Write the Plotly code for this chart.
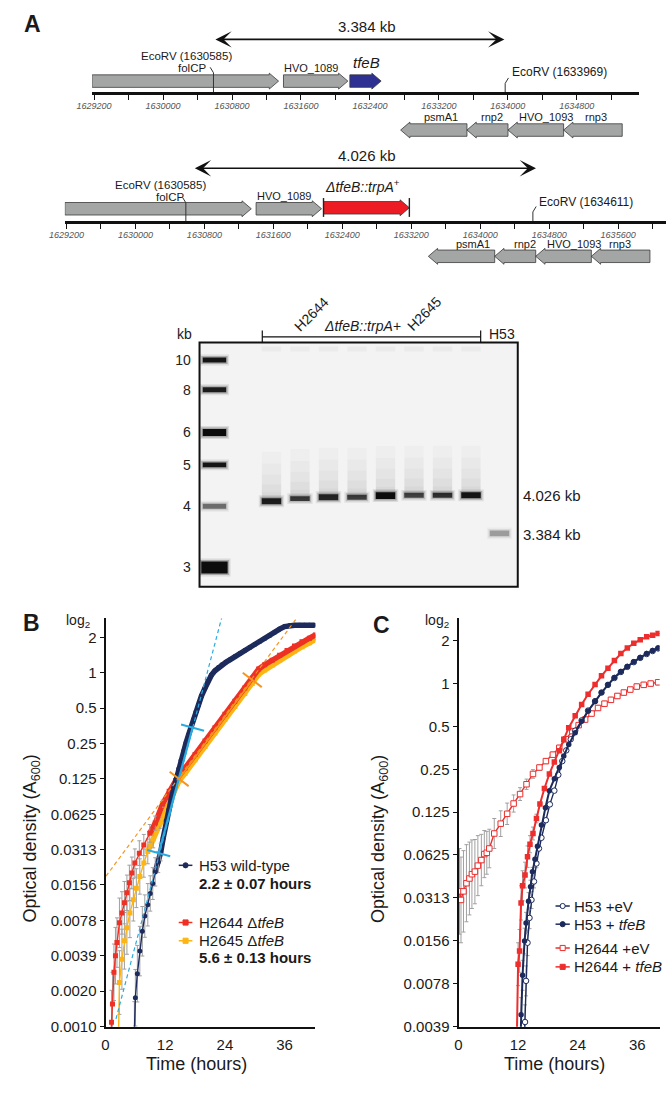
import math
import plotly.graph_objects as go

W, H = 672, 1093
FONT = "Liberation Sans, Arial, Helvetica, sans-serif"
INK = "#1a1a1a"


def px(x):
    return x / W


def py(y):
    return 1 - y / H


# ------------------------------------------------------------------ DATA
# Panel A : genome maps (bp coordinates)
map1_fwd_names = ["folCP", "HVO_1089", "tfeB"]
map1_fwd_start = [1629177, 1631397, 1632167]
map1_fwd_end = [1631340, 1632144, 1632530]
map1_rev_names = ["psmA1", "rnp2", "HVO_1093", "rnp3"]
map1_rev_start = [1632756, 1633526, 1634002, 1634647]
map1_rev_end = [1633526, 1634002, 1634647, 1635327]
map1_ecorv = [1630585, 1633969]
map1_fragment = [1630590, 1633960]
map1_ticks = list(range(1629200, 1635201, 400))

map2_fwd_names = ["folCP", "HVO_1089", "ΔtfeB::trpA+"]
map2_fwd_start = [1629181, 1631400, 1632182]
map2_fwd_end = [1631344, 1632159, 1633178]
map2_rev_names = ["psmA1", "rnp2", "HVO_1093", "rnp3"]
map2_rev_start = [1633398, 1634168, 1634644, 1635289]
map2_rev_end = [1634168, 1634644, 1635289, 1635969]
map2_ecorv = [1630585, 1634611]
map2_fragment = [1630672, 1634647]
map2_ticks = list(range(1629200, 1636001, 400))

# Panel A : Southern blot (lane number, migration in gel pixels from wells)
ladder_kb = [10, 8, 6, 5, 4, 3]
ladder_mig = [17.7, 47.7, 90.7, 123.3, 165.0, 226.7]
ladder_int = [0.95, 0.9, 1.0, 0.95, 0.5, 1.0]
ladder_thick = [5, 5, 7, 5, 5, 12]
sample_lanes = [3, 4, 5, 6, 7, 8, 9, 10]
sample_mig = [160.0, 157.3, 156.0, 156.0, 154.3, 154.0, 154.0, 154.0]
sample_int = [0.9, 0.75, 0.85, 0.72, 1.0, 0.7, 0.8, 0.95]
sample_thick = [6, 5, 6, 5, 7, 5, 5, 6]
wt_lane = [11]
wt_mig = [192.3]
wt_int = [0.3]

# Panel B : growth curves (time h, log2 A600, error in log2 units)
b_h53_t = [5.8, 6.0, 6.4, 6.9, 7.4, 7.9, 8.5, 9.0, 9.5, 10.0, 10.6, 11.1, 11.6, 12.2, 12.7, 13.2, 13.7,
           14.2, 14.7, 15.2, 15.7, 16.2, 16.7, 17.2, 17.7, 18.2, 18.7, 19.3, 20.0, 20.6, 21.3, 22.0,
           22.7, 23.4, 24.2, 25.0, 26.0, 27.0, 28.0, 29.0, 30.0, 31.0, 32.0, 33.0, 34.0, 35.0, 36.0,
           37.0, 38.0, 39.0, 40.0, 41.0, 42.0]
b_h53_log2 = [-10.2, -9.19, -8.51, -7.87, -7.31, -6.88, -6.56, -6.24, -5.96, -5.63, -5.35, -5.07, -4.67,
              -4.18, -3.88, -3.58, -3.29, -3.0, -2.72, -2.47, -2.22, -1.98, -1.75, -1.53, -1.32, -1.1,
              -0.9, -0.65, -0.43, -0.24, -0.06, 0.06, 0.15, 0.23, 0.3, 0.37, 0.46, 0.55, 0.63, 0.72,
              0.8, 0.89, 0.97, 1.06, 1.15, 1.24, 1.31, 1.34, 1.35, 1.35, 1.35, 1.35, 1.35]
b_h53_err = [0.9, 0.8, 0.8, 0.7, 0.7, 0.6, 0.6, 0.5, 0.45, 0.4, 0.3, 0.25] + [0.0] * 41

b_h2644_t = [1.0, 1.2, 1.4, 1.7, 2.0, 2.3, 2.8, 3.3, 3.8, 4.3, 4.8, 5.3, 5.9, 6.8, 7.7, 8.9, 10.0, 11.5,
             12.8, 14.1, 16.0, 18.0, 20.0, 22.0, 24.0, 26.0, 28.0, 29.5, 30.8, 32.0, 33.5, 35.0, 36.5,
             38.0, 39.5, 41.0, 42.2]
b_h2644_log2 = [-10.5, -9.88, -9.37, -8.47, -8.0, -7.63, -7.07, -6.79, -6.5, -6.22, -5.94, -5.66, -5.38,
                -5.10, -4.87, -4.54, -4.25, -3.70, -3.35, -3.05, -2.69, -2.31, -1.93, -1.55, -1.17, -0.80,
                -0.43, -0.15, 0.11, 0.23, 0.36, 0.50, 0.63, 0.76, 0.88, 0.98, 1.07]
b_h2644_err = [0.0, 0.9, 0.9, 0.8, 0.8, 0.7, 0.7, 0.6, 0.6, 0.5, 0.5, 0.45, 0.4, 0.35, 0.3, 0.25, 0.2,
               0.1] + [0.0] * 19

b_h2645_t = [2.6, 2.8, 3.3, 3.8, 4.3, 4.9, 5.6, 6.2, 6.9, 7.7, 8.5, 9.6, 10.9, 12.2, 13.5, 14.8, 16.0,
             18.0, 20.0, 22.0, 24.0, 26.0, 28.0, 29.5, 30.8, 32.0, 33.5, 35.0, 36.5, 38.0, 39.5, 41.0, 42.2]
b_h2645_log2 = [-10.3, -8.76, -8.1, -7.58, -7.21, -6.79, -6.42, -6.09, -5.76, -5.38, -5.05, -4.70, -4.25,
                -3.80, -3.40, -3.05, -2.84, -2.46, -2.08, -1.70, -1.32, -0.95, -0.58, -0.30, -0.04, 0.08,
                0.22, 0.36, 0.49, 0.62, 0.74, 0.85, 0.95]
b_h2645_err = [0.0, 0.9, 0.85, 0.8, 0.75, 0.7, 0.6, 0.55, 0.5, 0.4, 0.35, 0.25, 0.15] + [0.0] * 20

# doubling-time fits (end points, log2 units)
b_fit_wt_t = [2.1, 23.4]
b_fit_wt_log2 = [-9.79, 1.58]
b_win_wt_t = [10.7, 17.5]
b_win_wt_log2 = [-5.1, -1.55]
b_fit_mut_t = [0.1, 39.5]
b_fit_mut_log2 = [-5.75, 1.75]
b_win_mut_t = [14.8, 29.5]
b_win_mut_log2 = [-3.0, -0.2]

# Panel C
c_h53ev_t = [13.2, 13.4, 13.6, 13.9, 14.3, 14.7, 15.2, 15.7, 16.2, 16.7, 17.6, 18.4, 19.3, 20.1, 20.9,
             21.7, 22.6, 23.5, 24.8, 26.1, 27.5, 28.8, 30.1, 31.4, 32.7, 34.0, 35.3, 36.6, 37.9, 39.1, 40.2]
c_h53ev_log2 = [-8.5, -7.9, -6.94, -6.05, -5.47, -5.05, -4.62, -4.2, -3.85, -3.6, -3.19, -2.82, -2.5,
                -2.13, -1.81, -1.56, -1.3, -1.1, -0.86, -0.63, -0.41, -0.21, -0.03, 0.13, 0.27, 0.39,
                0.50, 0.60, 0.69, 0.76, 0.82]
c_h53ev_err = [0.0, 0.4, 0.35, 0.3, 0.25, 0.2, 0.15, 0.1] + [0.0] * 23

c_h53tfeb_t = [12.4, 12.6, 12.9, 13.3, 13.6, 14.1, 14.5, 14.9, 15.4, 15.9, 16.7, 17.5, 18.3, 19.3, 20.3,
               21.2, 22.2, 23.5, 24.8, 26.1, 27.5, 28.8, 30.1, 31.4, 32.7, 34.0, 35.3, 36.6, 37.9, 39.1, 40.2]
c_h53tfeb_log2 = [-8.6, -7.73, -6.81, -6.01, -5.59, -5.08, -4.74, -4.39, -4.10, -3.80, -3.30, -2.90, -2.50,
                  -2.22, -1.96, -1.69, -1.42, -1.15, -0.88, -0.64, -0.42, -0.21, -0.03, 0.14, 0.28, 0.40,
                  0.51, 0.61, 0.70, 0.77, 0.83]
c_h53tfeb_err = [0.0, 0.4, 0.35, 0.3, 0.25, 0.2, 0.15, 0.1] + [0.0] * 23

c_h2644ev_t = [0.2, 0.5, 1.0, 1.6, 2.2, 2.7, 3.3, 3.9, 4.6, 5.2, 5.7, 6.2, 7.2, 8.5, 9.8, 11.1, 12.4, 13.7,
               15.0, 16.3, 17.6, 19.0, 20.3, 21.6, 22.9, 24.2, 25.5, 26.8, 28.1, 29.4, 30.7, 32.0, 33.3,
               34.6, 35.9, 37.3, 38.7, 40.2]
c_h2644ev_log2 = [-4.85, -5.05, -4.85, -4.66, -4.55, -4.45, -4.39, -4.25, -4.12, -3.98, -3.95, -3.85, -3.5,
                  -3.27, -3.04, -2.8, -2.58, -2.35, -2.11, -1.96, -1.81, -1.66, -1.5, -1.3, -1.11, -0.97,
                  -0.84, -0.7, -0.57, -0.47, -0.38, -0.29, -0.21, -0.14, -0.07, -0.03, 0.0, 0.03]
c_h2644ev_err = [1.0, 1.0, 0.95, 0.9, 0.85, 0.8, 0.75, 0.7, 0.6, 0.55, 0.5, 0.45, 0.35, 0.3, 0.25, 0.2,
                 0.15, 0.12, 0.1] + [0.06] * 19

c_h2644tfeb_t = [11.7, 12.0, 12.3, 12.6, 12.9, 13.4, 13.9, 14.4, 15.0, 15.7, 16.4, 17.3, 18.3, 19.3, 20.3,
                 21.2, 22.2, 23.5, 24.8, 26.1, 27.5, 28.8, 30.1, 31.4, 32.7, 34.0, 35.3, 36.6, 37.9, 39.1, 40.2]
c_h2644tfeb_log2 = [-8.6, -6.55, -6.24, -5.12, -4.72, -4.47, -4.04, -3.75, -3.5, -3.15, -2.81, -2.45, -2.11,
                    -1.83, -1.57, -1.30, -1.03, -0.75, -0.49, -0.25, -0.02, 0.18, 0.36, 0.54, 0.70, 0.83,
                    0.94, 1.02, 1.09, 1.13, 1.17]
c_h2644tfeb_err = [0.0, 0.5, 0.5, 0.4, 0.35, 0.3, 0.25, 0.2, 0.15, 0.1] + [0.0] * 21

b_ytick_text = ["2", "1", "0.5", "0.25", "0.125", "0.0625", "0.0313", "0.0156", "0.0078", "0.0039",
                "0.0020", "0.0010"]
b_ytick_log2 = [1, 0, -1, -2, -3, -4, -5, -6, -7, -8, -9, -10]
c_ytick_text = ["2", "1", "0.5", "0.25", "0.125", "0.0625", "0.0313", "0.0156", "0.0078", "0.0039"]
c_ytick_log2 = [1, 0, -1, -2, -3, -4, -5, -6, -7, -8]
time_ticks = [0, 12, 24, 36]

# ------------------------------------------------------------------ STYLE
NAVY = "#1d2b5c"
RED = "#ee3124"
YEL = "#fdb515"
CRED = "#ee2d2d"
BLUE = "#29abe2"
ORANGE = "#f7941d"
GENE = "#a4a6a6"
ERRC = "#a0a0a0"
BP = 1 / 0.0883  # bp per pixel on the maps

fig = go.Figure()


def gene_poly(starts, ends, yc, forward, body=6.3, head=8.0, head_len_px=9.5):
    xs, ys = [], []
    hl = head_len_px * BP
    for s, e in zip(starts, ends):
        if forward:
            pts = [(s, yc - body), (e - hl, yc - body), (e - hl, yc - head), (e, yc), (e - hl, yc + head),
                   (e - hl, yc + body), (s, yc + body), (s, yc - body)]
        else:
            pts = [(e, yc - body), (s + hl, yc - body), (s + hl, yc - head), (s, yc), (s + hl, yc + head),
                   (s + hl, yc + body), (e, yc + body), (e, yc - body)]
        xs += [p[0] for p in pts] + [None]
        ys += [p[1] for p in pts] + [None]
    return xs, ys


def add_genes(xa, starts, ends, yc, forward, fill):
    xs, ys = gene_poly(starts, ends, yc, forward)
    fig.add_trace(go.Scatter(x=xs, y=ys, xaxis=xa, yaxis="y", mode="lines", fill="toself", fillcolor=fill,
                             line=dict(color="#3a3a3a", width=0.8), hoverinfo="skip", showlegend=False))


# map 1
add_genes("x", map1_fwd_start[:2], map1_fwd_end[:2], 81.7, True, GENE)
add_genes("x", map1_fwd_start[2:], map1_fwd_end[2:], 81.7, True, "#2e3192")
add_genes("x", map1_rev_start, map1_rev_end, 131.0, False, GENE)
# map 2
add_genes("x2", map2_fwd_start[:2], map2_fwd_end[:2], 210.3, True, GENE)
add_genes("x2", map2_fwd_start[2:], map2_fwd_end[2:], 209.3, True, "#ed1c24")
add_genes("x2", map2_rev_start, map2_rev_end, 258.2, False, GENE)

# red insert end bars
bx, byy = [], []
for v in [map2_fwd_start[2], map2_fwd_end[2]]:
    bx += [v, v, None]
    byy += [199.5, 218.5, None]
fig.add_trace(go.Scatter(x=bx, y=byy, xaxis="x2", yaxis="y", mode="lines",
                         line=dict(color="#222", width=1.4), hoverinfo="skip", showlegend=False))


def ecorv_marks(sites, line_y, tops, dirs):
    xs, ys = [], []
    for s, top, d in zip(sites, tops, dirs):
        xs += [s, s, s + d * 3.4 * BP, None]
        ys += [line_y, top, top - 5.5, None]
    return xs, ys


ex, ey = ecorv_marks(map1_ecorv, 93.3, [73.3, 84.0], [-1, 1])
fig.add_trace(go.Scatter(x=ex, y=ey, xaxis="x", yaxis="y", mode="lines",
                         line=dict(color="#333", width=1), hoverinfo="skip", showlegend=False))
ex, ey = ecorv_marks(map2_ecorv, 223.3, [204.3, 213.5], [-1, 1])
fig.add_trace(go.Scatter(x=ex, y=ey, xaxis="x2", yaxis="y", mode="lines",
                         line=dict(color="#333", width=1), hoverinfo="skip", showlegend=False))

# ------------------------------------------------------------------ gel
fig.add_trace(go.Scatter(x=[1], y=[0], xaxis="x3", yaxis="y3", mode="markers",
                         marker=dict(size=1, opacity=0), hoverinfo="skip", showlegend=False))
LANE_PX = 29.2
shapes = []
shapes.append(dict(type="rect", xref="x3 domain", yref="y3 domain", x0=0, x1=1, y0=0, y1=1,
                   fillcolor="#f3f3f3", line=dict(width=0), layer="below"))


def band(lane, mig, thick, width_px, inten):
    hw = width_px / 2 / LANE_PX
    for grow, alpha in [(3.0, 0.1), (1.5, 0.25), (0.0, 1.0)]:
        g = grow / LANE_PX
        shapes.append(dict(type="rect", xref="x3", yref="y3", x0=lane - hw - g, x1=lane + hw + g,
                           y0=mig - thick / 2 - grow, y1=mig + thick / 2 + grow,
                           fillcolor=f"rgba(12,12,12,{inten * alpha:.3f})", line=dict(width=0)))


for lane, mig, inten in zip(sample_lanes, sample_mig, sample_int):
    hw = 10 / LANE_PX
    for top, a in [(50, 0.018), (38, 0.018), (27, 0.02), (17, 0.022), (9, 0.025)]:
        shapes.append(dict(type="rect", xref="x3", yref="y3", x0=lane - hw, x1=lane + hw,
                           y0=mig - top, y1=mig, fillcolor=f"rgba(0,0,0,{a})", line=dict(width=0)))
    shapes.append(dict(type="rect", xref="x3", yref="y3", x0=lane - hw, x1=lane + hw, y0=4, y1=9,
                       fillcolor="rgba(0,0,0,0.03)", line=dict(width=0)))

for mig, inten, th in zip(ladder_mig, ladder_int, ladder_thick):
    band(1, mig, th, 24 if th < 10 else 27, inten)
for lane, mig, inten, th in zip(sample_lanes, sample_mig, sample_int, sample_thick):
    band(lane, mig, th, 20, inten)
for lane, mig, inten in zip(wt_lane, wt_mig, wt_int):
    band(lane, mig, 6, 20, inten)
shapes.append(dict(type="rect", xref="x3 domain", yref="y3 domain", x0=0, x1=1, y0=0, y1=1,
                   fillcolor="rgba(0,0,0,0)", line=dict(color="#111", width=2)))

# bracket above gel
for (x0, y0, x1, y1) in [(252.3, 339.3, 476, 339.3), (252.3, 333, 252.3, 345), (476, 333, 476, 345)]:
    shapes.append(dict(type="line", xref="paper", yref="paper", x0=px(x0), x1=px(x1), y0=py(y0), y1=py(y1),
                       line=dict(color="#111", width=1.2)))

# ------------------------------------------------------------------ panels B and C
B_X0, B_X1, B_RANGE = 91.7, 306.7, 42.2
C_X0, C_X1, C_RANGE = 453.3, 659.3, 40.5
L2 = math.log10(2)


def od(vals):
    return [2 ** v for v in vals]


def err(vals, e):
    plus = [2 ** (v + d) - 2 ** v for v, d in zip(vals, e)]
    minus = [2 ** v - 2 ** (v - d) for v, d in zip(vals, e)]
    return dict(type="data", array=plus, arrayminus=minus, color=ERRC, thickness=1, width=2, visible=True)


def curve(t, v, e, color, xa, ya, symbol, fill=None, band_from=None, msize=5, lw=1.4):
    if band_from is not None:
        fig.add_trace(go.Scatter(x=t[band_from:], y=od(v[band_from:]), xaxis=xa, yaxis=ya, mode="lines",
                                 line=dict(color=color, width=5.5), hoverinfo="skip", showlegend=False))
    fig.add_trace(go.Scatter(x=t, y=od(v), xaxis=xa, yaxis=ya, mode="lines+markers",
                             line=dict(color=color, width=lw),
                             marker=dict(symbol=symbol, size=msize, color=fill or color,
                                         line=dict(color=color, width=1 if fill else 0)),
                             error_y=err(v, e), hoverinfo="skip", showlegend=False))


curve(b_h2645_t, b_h2645_log2, b_h2645_err, YEL, "x4", "y4", "square", band_from=10)
curve(b_h2644_t, b_h2644_log2, b_h2644_err, RED, "x4", "y4", "square", band_from=15)
curve(b_h53_t, b_h53_log2, b_h53_err, NAVY, "x4", "y4", "circle", band_from=9)

# fits
for t, v, col in [(b_fit_wt_t, b_fit_wt_log2, BLUE), (b_fit_mut_t, b_fit_mut_log2, ORANGE)]:
    fig.add_trace(go.Scatter(x=t, y=od(v), xaxis="x4", yaxis="y4", mode="lines",
                             line=dict(color=col, width=1.2, dash="4px,3px"), hoverinfo="skip", showlegend=False))
bx_scale = (B_X1 - B_X0) / B_RANGE
by_scale = 35.55
for t, v, col, w in [(b_win_wt_t, b_win_wt_log2, BLUE, 2.2), (b_win_mut_t, b_win_mut_log2, ORANGE, 1.6)]:
    ang = math.degrees(math.atan2((v[1] - v[0]) * by_scale, (t[1] - t[0]) * bx_scale))
    fig.add_trace(go.Scatter(x=t, y=od(v), xaxis="x4", yaxis="y4", mode="lines+markers",
                             line=dict(color=col, width=w),
                             marker=dict(symbol="line-ew", size=17, angle=90 - ang,
                                         line=dict(color=col, width=2)),
                             hoverinfo="skip", showlegend=False))

curve(c_h2644ev_t, c_h2644ev_log2, c_h2644ev_err, CRED, "x5", "y5", "square", fill="white", msize=5.5)
curve(c_h53ev_t, c_h53ev_log2, c_h53ev_err, NAVY, "x5", "y5", "circle", fill="white", msize=5.5)
curve(c_h53tfeb_t, c_h53tfeb_log2, c_h53tfeb_err, NAVY, "x5", "y5", "circle", msize=5.5, lw=2)
curve(c_h2644tfeb_t, c_h2644tfeb_log2, c_h2644tfeb_err, CRED, "x5", "y5", "square", msize=5.5, lw=2)

# ------------------------------------------------------------------ annotations
anns = []


def ann(text, x, y, size=12, xanchor="center", yanchor="middle", angle=0, color=INK):
    anns.append(dict(text=text, x=px(x), y=py(y), xref="paper", yref="paper", showarrow=False,
                     font=dict(size=size, color=color, family=FONT), xanchor=xanchor, yanchor=yanchor,
                     textangle=angle, borderpad=0))


ann("<b>A</b>", 17, 24, 23)
ann("<b>B</b>", 16, 628, 23)
ann("<b>C</b>", 374, 630, 23)

# map 1 texts
ann("3.384 kb", 360, 27, 15)
ann("EcoRV (1630585)", 175, 56, 11.5)
ann("folCP", 180, 68.5, 11.5)
ann("HVO_1089", 302, 69, 11)
ann("<i>tfeB</i>", 359, 63, 15)
ann("EcoRV (1633969)", 507, 73, 12, xanchor="left")
for name, x in zip(map1_rev_names, [435, 488, 543, 594]):
    ann(name, x, 118, 11)
# map 2 texts
ann("4.026 kb", 360, 157, 15)
ann("EcoRV (1630585)", 148, 186.5, 11.5)
ann("folCP", 157.5, 198.8, 11.5)
ann("HVO_1089", 275, 197.3, 11)
ann("<i>ΔtfeB::trpA</i><sup>+</sup>", 355, 187, 14)
ann("EcoRV (1634611)", 535, 203, 12, xanchor="left")
for name, x in zip(map2_rev_names, [468, 521, 572, 619]):
    ann(name, x, 246, 11)

# fragment arrows
for xa, frag, yv in [("x", map1_fragment, 39.7), ("x2", map2_fragment, 169.5)]:
    anns.append(dict(x=frag[1], y=yv, xref=xa, yref="y", ax=frag[0], ay=yv, axref=xa, ayref="y",
                     text="", showarrow=True, arrowhead=3, startarrowhead=3, arrowside="end+start",
                     arrowsize=1.6, startarrowsize=1.6, arrowwidth=1.7, arrowcolor="#111"))

# gel texts
ann("kb", 173, 336.7, 14)
ann("H2644", 303, 316.7, 14, angle=-45)
ann("<i>ΔtfeB::trpA+</i>", 355, 328.3, 14)
ann("H2645", 418, 316.7, 14, angle=-45)
ann("H53", 484, 336.7, 14, xanchor="left")
ann("4.026 kb", 518, 499.3, 15, xanchor="left")
ann("3.384 kb", 518, 538.3, 15, xanchor="left")

# axis titles for B and C
for x0, cx, lx in [(16, 185, 77), (373, 551.7, 445)]:
    ann("Optical density (A<sub>600</sub>)", x0, 845, 18, angle=-90)
    ann("Time (hours)", cx, 1071.7, 18)
    ann("log<sub>2</sub>", lx, 626, 14, xanchor="right")

# legends
leg_b = [("H53 wild-type", NAVY, "circle", None, 871.7), ("H2644 Δ<i>tfeB</i>", RED, "square", None, 929.3),
         ("H2645 Δ<i>tfeB</i>", YEL, "square", None, 947.7)]
leg_c = [("H53 +eV", NAVY, "circle", "white", 912.7), ("H53 + <i>tfeB</i>", NAVY, "circle", None, 931.0),
         ("H2644 +eV", CRED, "square", "white", 955.0), ("H2644 + <i>tfeB</i>", CRED, "square", None, 974.0)]


def legend_items(items, lx0, lx1, tx):
    for text, col, sym, fill, y in items:
        shapes.append(dict(type="line", xref="paper", yref="paper", x0=px(lx0), x1=px(lx1), y0=py(y), y1=py(y),
                           line=dict(color=col, width=1.5)))
        cx = (lx0 + lx1) / 2
        r = 2.6
        shapes.append(dict(type="circle" if sym == "circle" else "rect", xref="paper", yref="paper",
                           x0=px(cx - r), x1=px(cx + r), y0=py(y + r), y1=py(y - r),
                           fillcolor=fill or col, line=dict(color=col, width=1)))
        ann(text, tx, y, 15, xanchor="left")


legend_items(leg_b, 166.7, 180.7, 186)
legend_items(leg_c, 552.7, 567.3, 570.7)
ann("<b>2.2 ± 0.07 hours</b>", 186, 890, 15, xanchor="left")
ann("<b>5.6 ± 0.13 hours</b>", 186, 965, 15, xanchor="left")

# ------------------------------------------------------------------ layout
tickfont_map = dict(size=9, color="#555", family=FONT, style="italic")
tf = dict(size=15, color=INK, family=FONT)


def map_axis(domain_px, x_at_first, ticks, pos_y):
    d0, d1 = domain_px
    return dict(domain=[px(d0), px(d1)], range=[1629200 - (x_at_first - d0) * BP, 1629200 + (d1 - x_at_first) * BP],
                anchor="free", position=py(pos_y), showline=True, linecolor="#111", linewidth=3.5,
                ticks="outside", ticklen=5, tickwidth=1, tickcolor="#111", ticklabelstandoff=-2,
                tickvals=ticks, ticktext=[str(v) if (v - 1629200) % 800 == 0 else "" for v in ticks],
                tickfont=tickfont_map, showgrid=False, zeroline=False, fixedrange=True)


def growth_x(d0, d1, rng):
    return dict(domain=[px(d0), px(d1)], range=[0, rng], showline=True, linecolor="#111", linewidth=2,
                ticks="outside", ticklen=3, tickcolor="rgba(0,0,0,0)", tickvals=time_ticks,
                tickfont=tf, showgrid=False, zeroline=False)


def growth_y(lo, hi, vals, texts):
    return dict(domain=[py(1034.3), py(623)], type="log", range=[lo * L2, hi * L2], showline=True,
                linecolor="#111", linewidth=2, ticks="outside", ticklen=4, tickcolor="#111",
                tickvals=[2 ** v for v in vals], ticktext=texts, tickfont=tf, showgrid=False, zeroline=False)


fig.update_layout(
    width=W, height=H, margin=dict(l=0, r=0, t=0, b=0), autosize=False,
    paper_bgcolor="white", plot_bgcolor="rgba(0,0,0,0)", showlegend=False,
    font=dict(family=FONT, color=INK),
    xaxis=map_axis((78, 638), 80, map1_ticks, 93.3),
    xaxis2=map_axis((50, 666), 51.7, map2_ticks, 223.3),
    yaxis=dict(domain=[py(285), 1], range=[285, 0], visible=False, anchor="x"),
    xaxis3=dict(domain=[px(188), px(514)], range=[1 - 15.3 / LANE_PX, 1 - 15.3 / LANE_PX + 326 / LANE_PX],
                visible=False, anchor="y3"),
    yaxis3=dict(domain=[py(591), py(345)], range=[246, 0], anchor="x3", showline=False, showgrid=False,
                zeroline=False, ticks="outside", ticklen=5, tickcolor="rgba(0,0,0,0)",
                tickvals=ladder_mig, ticktext=[str(k) for k in ladder_kb],
                tickfont=dict(size=14, color="#222", family=FONT)),
    xaxis4=dict(growth_x(B_X0, B_X1, B_RANGE), anchor="y4"),
    yaxis4=dict(growth_y(-10.01, 1.54, b_ytick_log2, b_ytick_text), anchor="x4"),
    xaxis5=dict(growth_x(C_X0, C_X1, C_RANGE), anchor="y5"),
    yaxis5=dict(growth_y(-8.01, 1.52, c_ytick_log2, c_ytick_text), anchor="x5"),
    shapes=shapes, annotations=anns,
)

fig.write_html("out.html", config={"displayModeBar": False, "staticPlot": True},
               post_script="document.body.style.margin='0px';document.body.style.overflow='hidden';")
